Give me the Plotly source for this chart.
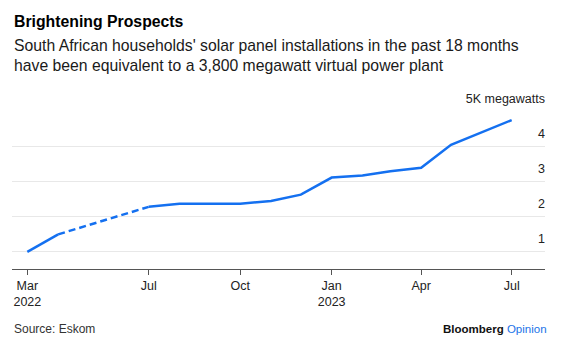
import plotly.graph_objects as go

# ---- data ----
months = ["2022-03-01", "2022-04-01", "2022-05-01", "2022-06-01", "2022-07-01",
          "2022-08-01", "2022-09-01", "2022-10-01", "2022-11-01", "2022-12-01",
          "2023-01-01", "2023-02-01", "2023-03-01", "2023-04-01", "2023-05-01",
          "2023-06-01", "2023-07-01"]
# thousand megawatts; None = no data (bridged by dashed line)
capacity_k_mw = [0.98, 1.48, None, None, 2.27, 2.36, 2.36, 2.36, 2.44, 2.62,
                 3.11, 3.17, 3.29, 3.39, 4.05, 4.41, 4.76]
gap_from, gap_to = 1, 4  # indices bridged by the dashed segment

x_tickvals = ["2022-03-01", "2022-07-01", "2022-10-01", "2023-01-01", "2023-04-01", "2023-07-01"]
x_ticktext = ["Mar<br>2022", "Jul", "Oct", "Jan<br>2023", "Apr", "Jul"]
y_tickvals = [1, 2, 3, 4, 5]
y_ticktext = ["1", "2", "3", "4", "5K megawatts"]

title = "<b>Brightening Prospects</b>"
subtitle = ("South African households' solar panel installations in the past 18 months<br>"
            "have been equivalent to a 3,800 megawatt virtual power plant")
source = "Source: Eskom"

BLUE = "#1470f0"
FONT = "Liberation Sans, Arial, Helvetica, sans-serif"

fig = go.Figure()
fig.add_trace(go.Scatter(
    x=[months[gap_from], months[gap_to]],
    y=[capacity_k_mw[gap_from], capacity_k_mw[gap_to]],
    mode="lines", line=dict(color=BLUE, width=2.5, dash="7px,4px"),
    hoverinfo="skip", showlegend=False))
fig.add_trace(go.Scatter(
    x=months, y=capacity_k_mw, mode="lines", connectgaps=False,
    line=dict(color=BLUE, width=2.5), showlegend=False))

W, H = 561, 348
L, R, T, B = 12, 16, 111, 79
pw, ph = W - L - R, H - T - B

def px(xp):
    return (xp - L) / pw

def py(yp):
    return (H - B - yp) / ph

fig.update_layout(
    width=W, height=H,
    margin=dict(l=L, r=R, t=T, b=B, pad=0),
    paper_bgcolor="white", plot_bgcolor="white",
    font=dict(family=FONT, color="#333333", size=12.5),
    showlegend=False,
    xaxis=dict(
        type="date", range=["2022-02-13 14:00", "2023-08-03 12:00"],
        tickvals=x_tickvals, ticktext=x_ticktext,
        ticks="outside", ticklen=5, tickwidth=1, tickcolor="#555555",
        showline=True, linecolor="#555555", linewidth=1,
        showgrid=False, zeroline=False,
        tickfont=dict(size=12.5, color="#222222"),
        fixedrange=True,
    ),
    yaxis=dict(
        side="right", range=[0.486, 5.02],
        tickvals=y_tickvals, ticktext=y_ticktext,
        ticklabelposition="inside top", ticklabeloverflow="allow",
        ticklabelshift=-4, ticklabelstandoff=-3,
        ticks="", showline=False, zeroline=False,
        showgrid=True, gridcolor="#e8e8e8", gridwidth=1,
        tickfont=dict(size=12.5, color="#222222"),
        fixedrange=True,
    ),
    annotations=[
        dict(text=title, xref="paper", yref="paper", x=px(12), y=py(21),
             xanchor="left", yanchor="middle", showarrow=False,
             font=dict(size=15.8, color="#000000", family=FONT)),
        dict(text=subtitle, xref="paper", yref="paper", x=px(12), y=py(55.5),
             xanchor="left", yanchor="middle", align="left", showarrow=False,
             font=dict(size=15.75, color="#1a1a1a", family=FONT)),
        dict(text=source, xref="paper", yref="paper", x=px(12), y=py(329),
             xanchor="left", yanchor="middle", showarrow=False,
             font=dict(size=12, color="#333333", family=FONT)),
        dict(text="<b>Bloomberg</b> <span style='color:#1a73e8'>Opinion</span>",
             xref="paper", yref="paper", x=px(549), y=py(328.5),
             xanchor="right", yanchor="middle", showarrow=False,
             font=dict(size=11.5, color="#111111", family=FONT)),
    ],
)

fig.write_html("out.html")
